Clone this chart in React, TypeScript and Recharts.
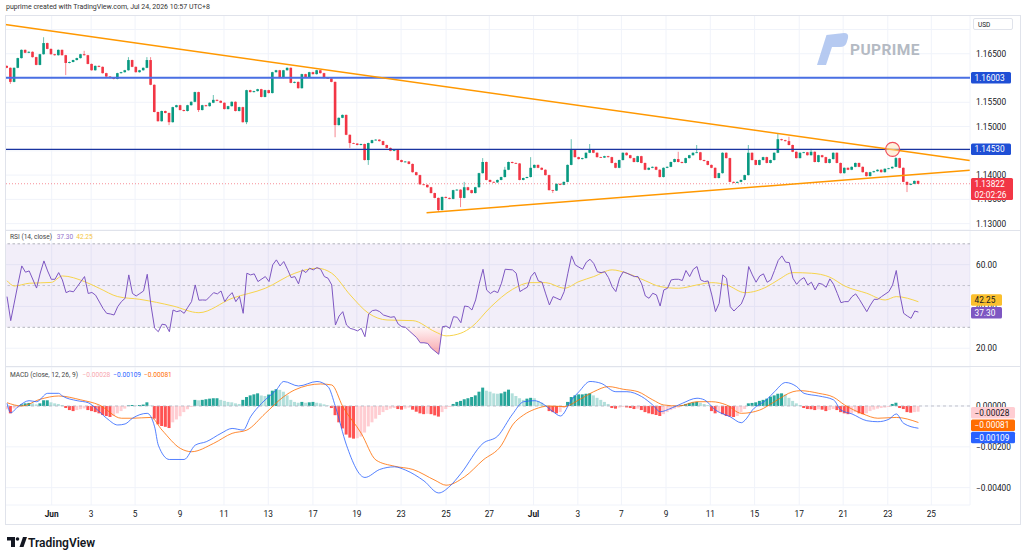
import {
  ComposedChart,
  Bar,
  Line,
  Area,
  XAxis,
  YAxis,
  CartesianGrid,
  ReferenceLine,
  ReferenceArea,
  ReferenceDot,
  Cell,
} from "recharts";

const FONT = "Roboto, 'Liberation Sans', sans-serif";
const TEXT = "#131722";
const GRID = "#f0f3fa";
const UP = "#089981";
const DOWN = "#f23645";

// 4h candles, index 0 = first bar on the left
const FIRST_OPEN = 1.1625;
const closes = [
  1.1621, 1.1592, 1.1621, 1.1641, 1.1658, 1.1652, 1.1654, 1.1643, 1.1627, 1.1649,
  1.1672, 1.166, 1.1649, 1.1647, 1.1658, 1.1647, 1.1631, 1.1633, 1.1637, 1.1641,
  1.1649, 1.1647, 1.1629, 1.1616, 1.1625, 1.1623, 1.161, 1.1603, 1.16, 1.1598,
  1.161, 1.1612, 1.1616, 1.1637, 1.1623, 1.1612, 1.1616, 1.1621, 1.1637, 1.1586,
  1.153, 1.1511, 1.1532, 1.1528, 1.1509, 1.154, 1.1544, 1.1534, 1.1532, 1.1544,
  1.1551, 1.1571, 1.1534, 1.1544, 1.1542, 1.1549, 1.1555, 1.1553, 1.1549, 1.1536,
  1.1542, 1.1551, 1.1532, 1.154, 1.1509, 1.1575, 1.1571, 1.1573, 1.1577, 1.1561,
  1.1575, 1.1569, 1.1612, 1.1616, 1.16, 1.1616, 1.1621, 1.159, 1.1592, 1.1579,
  1.1608, 1.1602, 1.1612, 1.1608, 1.1616, 1.161, 1.16, 1.1599, 1.1592, 1.1503,
  1.1518, 1.1524, 1.1483, 1.1466, 1.1465, 1.1462, 1.1464, 1.1431, 1.1466, 1.1472,
  1.1473, 1.147, 1.1462, 1.1456, 1.145, 1.1452, 1.1431, 1.1427, 1.1428, 1.1423,
  1.1406, 1.14, 1.1381, 1.138, 1.1375, 1.1363, 1.1353, 1.1328, 1.1355, 1.1353,
  1.1351, 1.1369, 1.137, 1.1353, 1.1375, 1.1369, 1.1363, 1.1375, 1.1404, 1.1427,
  1.139, 1.1386, 1.1385, 1.139, 1.1396, 1.1411, 1.1427, 1.1425, 1.1424, 1.139,
  1.1394, 1.1396, 1.1415, 1.1421, 1.1415, 1.1411, 1.14, 1.1369, 1.1368, 1.1382,
  1.138, 1.1386, 1.1421, 1.1452, 1.1437, 1.1433, 1.1435, 1.1446, 1.1452, 1.1446,
  1.1437, 1.1436, 1.1439, 1.1437, 1.1425, 1.1415, 1.1431, 1.1446, 1.1441, 1.1435,
  1.1427, 1.1439, 1.1425, 1.1411, 1.1415, 1.1417, 1.1411, 1.1396, 1.1415, 1.1417,
  1.1427, 1.1433, 1.1427, 1.1425, 1.1435, 1.1441, 1.1446, 1.1447, 1.1431, 1.1429,
  1.1421, 1.1415, 1.1394, 1.1404, 1.1446, 1.1435, 1.1386, 1.1384, 1.1386, 1.139,
  1.14, 1.1446, 1.1431, 1.1421, 1.1431, 1.1437, 1.1425, 1.1431, 1.1446, 1.1474,
  1.1472, 1.147, 1.1462, 1.1448, 1.1435, 1.1446, 1.1447, 1.1441, 1.1448, 1.1427,
  1.1441, 1.1437, 1.1425, 1.1433, 1.1446, 1.1425, 1.1404, 1.1415, 1.1411, 1.1417,
  1.1425, 1.1417, 1.1406, 1.1398, 1.1406, 1.1408, 1.1411, 1.1406, 1.1413, 1.1414,
  1.1417, 1.1435, 1.1415, 1.1386, 1.138, 1.1382, 1.1388, 1.1382,
];

// long wicks [index, price]
const wickHighs = [
  [10, 1.1684], [21, 1.1656], [33, 1.1643], [38, 1.1643], [39, 1.1643], [56, 1.1565],
  [124, 1.1386], [129, 1.1435], [135, 1.1417], [142, 1.1437], [153, 1.1474], [158, 1.1464],
  [182, 1.1448], [187, 1.1462], [201, 1.1462], [209, 1.1485], [212, 1.1479], [218, 1.1454],
  [241, 1.1437],
];
const wickLows = [
  [1, 1.1588], [16, 1.1606], [44, 1.1503], [52, 1.153], [65, 1.1505], [89, 1.1478],
  [93, 1.1456], [98, 1.1421], [117, 1.1324], [123, 1.1334], [148, 1.1363], [244, 1.1365],
];

const dateTicks = [
  12.1, 22.8, 34.7, 46.9, 58.8, 70.8, 82.9, 94.8, 106.8, 119.0, 130.7,
  142.7, 154.7, 166.5, 178.6, 190.6, 202.6, 214.7, 226.6, 238.7, 250.5,
];
const dateLabels = [
  "Jun", "3", "5", "9", "11", "13", "17", "19", "23", "25", "27",
  "Jul", "3", "7", "9", "11", "15", "17", "21", "23", "25",
];

const priceTicks = [1.13, 1.135, 1.14, 1.145, 1.15, 1.155, 1.16, 1.165, 1.17];
const rsiTicks = [20, 40, 60];
const macdTicks = [-0.004, -0.002, 0];

// drawn levels / trendlines
const LEVEL_TOP = 1.16003;
const LEVEL_MID = 1.1453;
const LAST_PRICE = 1.13822;
const RSI_LAST = 37.3;
const RSI_MA_LAST = 42.25;
const HIST_LAST = -0.00028;
const SIGNAL_LAST = -0.00081;
const MACD_LAST = -0.00109;
const upperTrend = [
  { x: -0.5, y: 1.171 },
  { x: 260.9, y: 1.143 },
];
const lowerTrend = [
  { x: 113.7, y: 1.13225 },
  { x: 260.9, y: 1.14101 },
];

// RSI(14) [index, value]
const rsiPoints = [
  [0, 44.7], [1, 33.2], [3, 51], [4, 59.4], [5, 56.4], [6, 57], [8, 48.8], [9, 56], [10, 61.8],
  [11, 57], [12, 53], [13, 53], [14, 56.2], [15, 52.7], [16, 46.6], [17, 47.4], [18, 47],
  [19, 49.4], [21, 54.3], [22, 46.2], [23, 46.7], [24, 45.4], [26, 39.1], [27, 36.7],
  [28, 36.4], [29, 35.9], [30, 39.9], [31, 42.3], [32, 43.9], [33, 55.1], [34, 46.2], [35, 45],
  [36, 46.2], [37, 47.4], [38, 55.4], [39, 40.7], [40, 29.6], [41, 27.9], [42, 31.5],
  [43, 31.2], [44, 27.9], [45, 38.3], [46, 37.5], [47, 38], [48, 36.7], [49, 39.6], [50, 42.3],
  [51, 50.3], [52, 43], [53, 43.1], [54, 43], [55, 44.8], [56, 46.6], [57, 46], [58, 47.4],
  [59, 42.3], [60, 44.8], [61, 46.6], [62, 42.3], [63, 44.8], [64, 36.7], [65, 55.9],
  [66, 55.1], [67, 55.6], [68, 51.9], [70, 54.3], [71, 51.9], [72, 59.9], [73, 62.3],
  [74, 59.4], [75, 61.5], [76, 57.8], [77, 53.8], [78, 54.3], [79, 50.8], [80, 57.5],
  [81, 56.2], [82, 58.3], [83, 57.5], [84, 58.6], [85, 57.8], [86, 54.3], [87, 53.5],
  [88, 50.3], [89, 31.1], [90, 35.4], [91, 37.5], [92, 31.1], [93, 29.5], [94, 29],
  [95, 28.3], [96, 29.5], [97, 25.5], [98, 36.4], [99, 38], [100, 38.3], [101, 37.5],
  [102, 35.9], [104, 34.8], [105, 35.1], [106, 31.6], [107, 30.3], [108, 30], [109, 28.3],
  [111, 25.1], [112, 22.6], [113, 22.6], [114, 22.3], [115, 20], [117, 17.1], [118, 30.3],
  [119, 30.6], [120, 29.5], [121, 35.1], [122, 34.8], [123, 32.2], [124, 40.2], [125, 39.9],
  [126, 38.3], [127, 43.1], [128, 51.1], [129, 57.8], [130, 47.8], [131, 46.2], [132, 47.4],
  [133, 46.6], [134, 51.1], [135, 57.8], [137, 57.5], [138, 55.9], [139, 47.1], [140, 48.2],
  [141, 49.2], [142, 54.3], [143, 56.4], [144, 52.2], [145, 51.6], [146, 46], [147, 40.7],
  [148, 44.7], [149, 43.9], [150, 43.1], [151, 47.1], [152, 55.9], [153, 64.2], [154, 59.9],
  [155, 58.8], [156, 57.8], [157, 61.2], [158, 62.6], [159, 60.6], [160, 56.6], [161, 56.2],
  [162, 56.6], [163, 53.8], [164, 49.4], [165, 47.1], [166, 53.5], [167, 56.6], [168, 55.9],
  [170, 54.3], [171, 54.3], [172, 50.8], [173, 45], [174, 43.9], [175, 46.3], [176, 45.5],
  [177, 40.2], [178, 47.9], [179, 48.7], [180, 52.7], [181, 53], [182, 53], [183, 52.4],
  [184, 57.2], [185, 54.3], [186, 57.8], [187, 59.1], [188, 52.7], [189, 51.9], [190, 52.2],
  [191, 45.5], [192, 37.5], [193, 41.5], [194, 55.1], [195, 53.5], [196, 39.9], [197, 37.8],
  [198, 39.6], [199, 41.2], [200, 45.5], [201, 59.1], [202, 55.1], [203, 51.6], [204, 54.6],
  [205, 55.6], [206, 51.6], [207, 52.7], [208, 57.2], [209, 62], [210, 64.2], [211, 61.2],
  [212, 61], [213, 53.5], [214, 50.6], [215, 52.7], [216, 53.8], [217, 50.3], [218, 51.6],
  [219, 47.9], [220, 51.1], [221, 50.6], [222, 49.2], [223, 53.2], [224, 50.6], [225, 46.3],
  [226, 41.8], [227, 42.3], [228, 42.3], [229, 44.7], [230, 46], [231, 43.4], [233, 37.5],
  [234, 40.7], [235, 43.4], [236, 43.4], [237, 44.7], [239, 47.1], [240, 50.3], [241, 57.2],
  [242, 45.5], [243, 36.7], [244, 35.4], [245, 34.3], [246, 37.8], [247, 37.3],
];

// RSI-based MA
const rsiMaPoints = [
  [0, 52.3], [2, 49.8], [6, 51.1], [12, 51.5], [15, 54.6], [21, 51.9], [25, 48.7], [30, 44.7],
  [36, 43.4], [45, 40.2], [52, 37], [61, 43.9], [70, 48.7], [78, 55.9], [84, 58.3], [88, 55.9],
  [93, 45.5], [98, 36.7], [103, 33.5], [110, 33.2], [116, 27.9], [119, 25.9], [123, 27.2],
  [126, 30.3], [131, 39.6], [137, 48.2], [142, 51.4], [146, 51.4], [151, 48.7], [155, 51.9],
  [159, 54.3], [164, 57.5], [168, 55.9], [173, 52.3], [177, 49.5], [182, 48.7], [187, 50.3],
  [191, 51.4], [195, 50.3], [200, 46.6], [206, 49.5], [209, 52.7], [213, 56.2], [218, 55.9],
  [223, 54], [227, 49.8], [233, 46.3], [238, 43.1], [241, 44.7], [247, 42.25],
];

// MACD (12, 26, 9)
const macdPoints = [
  [0, 0.00013], [1, -0.00033], [3, -0.00003], [6, 0.00026], [8, 0.00021], [11, 0.00062],
  [14, 0.00062], [15, 0.00049], [19, 0.00026], [22, 0.00016], [24, -0.00011], [27, -0.0006],
  [30, -0.00093], [32, -0.00088], [34, -0.0006], [38, -0.00036], [40, -0.00102], [41, -0.00192],
  [44, -0.00262], [48, -0.00262], [51, -0.00192], [54, -0.00175], [58, -0.00134], [61, -0.0011],
  [64, -0.00118], [66, -0.00053], [69, 0.00013], [73, 0.00079], [75, 0.0012], [79, 0.00098],
  [84, 0.0012], [87, 0.00095], [89, -0.00003], [92, -0.00192], [97, -0.0035], [101, -0.00311],
  [105, -0.00298], [108, -0.00314], [113, -0.00367], [117, -0.00426], [120, -0.00393],
  [123, -0.00331], [129, -0.00183], [133, -0.00147], [137, -0.0004], [140, 0.00021],
  [143, 0.00026], [145, 0.00013], [148, -0.00028], [150, -0.00049], [153, 0.0003], [155, 0.0007],
  [158, 0.0012], [161, 0.00111], [165, 0.0007], [168, 0.0007], [172, 0.00046], [175, 0.00005],
  [177, -0.00028], [180, -0.00011], [183, 0.00013], [187, 0.00038], [189, 0.0003], [192, -0.0002],
  [196, -0.00053], [199, -0.00082], [200, -0.0007], [202, -0.0002], [206, 0.00033], [208, 0.0007],
  [211, 0.00115], [214, 0.00095], [216, 0.00062], [220, 0.00049], [224, 0.0003], [226, -0.0002],
  [229, -0.00039], [233, -0.00072], [236, -0.00077], [239, -0.00065], [241, -0.00039],
  [243, -0.00085], [247, -0.00109],
];
const signalPoints = [
  [0, 0.00016], [4, 0], [9, 0.00033], [14, 0.00049], [20, 0.0003], [25, 0.00005], [31, -0.0006],
  [34, -0.0006], [39, -0.00056], [42, -0.00118], [47, -0.00208], [50, -0.00224], [56, -0.00183],
  [61, -0.00134], [65, -0.00118], [70, -0.00036], [75, 0.00046], [78, 0.00079], [85, 0.00108],
  [88, 0.00103], [91, -0.00003], [96, -0.00134], [100, -0.00265], [105, -0.00295],
  [110, -0.00311], [116, -0.00364], [119, -0.00388], [124, -0.00347], [129, -0.00265],
  [134, -0.00192], [137, -0.00093], [140, -0.00044], [143, -0.00016], [147, 0], [151, -0.00003],
  [155, 0.0003], [159, 0.0007], [163, 0.00095], [167, 0.00082], [171, 0.0007], [175, 0.0003],
  [178, 0.00005], [182, 0], [187, 0.00021], [191, 0.00021], [195, 0.00005], [199, -0.00036],
  [204, -0.0002], [208, 0.00021], [213, 0.0007], [215, 0.00075], [220, 0.00062], [224, 0.00043],
  [227, 0.00005], [232, -0.00039], [236, -0.0006], [241, -0.00056], [247, -0.00081],
];
const histValues = [
  -0.00016, -0.00036, -0.00012, -0.00008, 0.00008, 0.00013, 0.00015, 0.00013, 0.00008, 0.00013,
  0.00028, 0.00028, 0.00018, 0.00013, 0.0001, 0.00005, -0.0001, -0.0002, -0.00025, -0.0002,
  -0.00016, -0.00012, -0.0002, -0.00025, -0.0003, -0.00036, -0.00044, -0.00049, -0.00054, -0.00049,
  -0.00036, -0.00025, -0.00013, 0.00003, 0.00005, 0.00003, 0.00005, 0.00007, 0.00018, 0.00002,
  -0.00062, -0.0009, -0.00098, -0.00102, -0.00108, -0.0008, -0.00066, -0.0005, -0.0003, -0.00016,
  -0.00005, 0.0003, 0.00028, 0.0003, 0.00033, 0.00036, 0.00038, 0.00038, 0.0003, 0.00025,
  0.0002, 0.00018, 0.00013, 0.0001, 0.0003, 0.00044, 0.00052, 0.00057, 0.00062, 0.00052,
  0.00049, 0.00056, 0.00075, 0.00082, 0.00079, 0.0007, 0.00052, 0.0003, 0.0002, 0.00016,
  0.0002, 0.00016, 0.00018, 0.0002, 0.00016, 0.00013, 0.00008, 0.00003, -0.0001, -0.00045,
  -0.0008, -0.0011, -0.0014, -0.00155, -0.0016, -0.00158, -0.0015, -0.0013, -0.001, -0.0008,
  -0.00062, -0.00044, -0.0003, -0.0002, -0.00013, -0.0001, -0.00015, -0.00018, -0.00013, -0.00008,
  -0.00018, -0.00028, -0.00036, -0.0004, -0.00038, -0.0004, -0.00046, -0.00052, -0.0003, -0.00015,
  -0.00005, 0.0001, 0.0002, 0.00025, 0.00033, 0.00038, 0.00044, 0.00052, 0.0007, 0.0009,
  0.00075, 0.0007, 0.00062, 0.0006, 0.00062, 0.0007, 0.0008, 0.00062, 0.00049, 0.00038,
  0.0003, 0.00036, 0.0004, 0.00038, 0.00025, 0.00016, 0.00005, -0.00025, -0.0003, -0.00036,
  -0.0003, -0.0001, 0.0002, 0.00044, 0.00052, 0.00057, 0.00057, 0.0006, 0.00062, 0.00052,
  0.0004, 0.0003, 0.0002, 0.0001, -0.0001, -0.00013, -0.00008, -0.00005, -0.00007, -0.0001,
  -0.00015, -0.00013, -0.0002, -0.0003, -0.00036, -0.0004, -0.00044, -0.00049, -0.0004, -0.0003,
  -0.0002, -0.00013, -0.00008, 0.00005, 0.0001, 0.00015, 0.00018, 0.0002, 0.00016, 0.0001,
  0.00005, -0.00025, -0.00036, -0.0003, -0.0004, -0.00049, -0.00052, -0.00054, -0.00049, -0.0003,
  -0.00015, 0.00013, 0.00015, 0.00018, 0.00025, 0.0003, 0.00036, 0.00046, 0.00052, 0.0006,
  0.00062, 0.00056, 0.0004, 0.00025, 0.00013, 0.00005, -0.0001, -0.00015, -0.00016, -0.0002,
  -0.00016, -0.00018, -0.00025, -0.0002, -0.00015, -0.0002, -0.0003, -0.00036, -0.0004, -0.00036,
  -0.0003, -0.00036, -0.0004, -0.00036, -0.00025, -0.00018, -0.00013, -0.0001, -0.00008, -0.00005,
  0.0001, 0.00016, -0.0001, -0.00015, -0.0003, -0.00033, -0.0003, -0.00028,
];

const X_DOMAIN = [-0.55, 260.98];
const PRICE_DOMAIN = [1.12869, 1.17298];
const RSI_DOMAIN = [11.0, 76.6];
const MACD_DOMAIN = [-0.00485, 0.00191];

const highMap = new Map(wickHighs.map(([i, v]) => [i, v]));
const lowMap = new Map(wickLows.map(([i, v]) => [i, v]));

const candleRows = closes.map((c, i) => {
  const o = i === 0 ? FIRST_OPEN : closes[i - 1];
  const hi = highMap.get(i) ?? Math.max(o, c) + 0.00008;
  const lo = lowMap.get(i) ?? Math.min(o, c) - 0.00008;
  return { i, o, c, range: [lo, hi] };
});

const rsiRows = rsiPoints.map(([i, v]) => ({ i, v }));
const rsiMaRows = rsiMaPoints.map(([i, v]) => ({ i, v }));
const oversoldRows = rsiPoints
  .filter(([i]) => i >= 107 && i <= 118)
  .map(([i, v]) => ({ i, band: [Math.min(v, 30), 30] }));
const macdRows = macdPoints.map(([i, v]) => ({ i, v }));
const signalRows = signalPoints.map(([i, v]) => ({ i, v }));
const histRows = histValues.map((h, i) => ({ i, h }));

function histColor(k: number) {
  const h = histValues[k];
  const prev = k > 0 ? histValues[k - 1] : h;
  if (h >= 0) return h >= prev ? "#26a69a" : "#b2dfdb";
  return h < prev ? "#ff5252" : "#ffcdd2";
}

function Candle(props: any) {
  const { x, y, width, height, payload } = props;
  if (x == null || !payload) return null;
  const top = Math.min(y, y + height);
  const bot = Math.max(y, y + height);
  const [lo, hi] = payload.range;
  const span = hi - lo || 1e-9;
  const py = (v: number) => top + ((hi - v) / span) * (bot - top);
  const color = payload.c >= payload.o ? UP : DOWN;
  const bt = py(Math.max(payload.o, payload.c));
  const bb = py(Math.min(payload.o, payload.c));
  const cx = x + width / 2;
  return (
    <g>
      <line x1={cx} x2={cx} y1={top} y2={bot} stroke={color} strokeWidth={0.8} strokeOpacity={0.75} />
      <rect x={x + 0.2} y={bt} width={width - 0.4} height={Math.max(bb - bt, 0.8)} fill={color} />
    </g>
  );
}

function AxisTick(props: any) {
  const { x, y, payload, fmt, skip } = props;
  if (skip && skip.includes(payload.value)) return null;
  return (
    <text x={x + 6} y={y} dy={3} fontSize={8.3} fill={TEXT} fontFamily={FONT} textAnchor="start">
      {fmt(payload.value)}
    </text>
  );
}

function DateTick(props: any) {
  const { x, y, payload } = props;
  const k = dateTicks.indexOf(payload.value);
  const label = dateLabels[k] ?? "";
  const month = label === "Jun" || label === "Jul";
  return (
    <text x={x} y={y + 12} fontSize={8.3} fill={TEXT} fontFamily={FONT} textAnchor="middle" fontWeight={month ? 700 : 400}>
      {label}
    </text>
  );
}

function Tag(props: any) {
  const { viewBox, text, sub, bg, fg = "#fff", dy = 0, w = 42 } = props;
  if (!viewBox) return null;
  const x = viewBox.x + viewBox.width + 1;
  const y = viewBox.y + dy;
  const h = sub ? 22 : 11.5;
  const top = sub ? y - 5.75 : y - h / 2;
  return (
    <g>
      <rect x={x} y={top} width={w} height={h} fill={bg} rx={1.5} />
      <text x={x + 3.5} y={y} dy={3} fontSize={8.3} fill={fg} fontFamily={FONT}>
        {text}
      </text>
      {sub && (
        <text x={x + 3.5} y={y + 11} dy={3} fontSize={8.3} fill={fg} fontFamily={FONT}>
          {sub}
        </text>
      )}
    </g>
  );
}

const fmtPrice = (v: number) => v.toFixed(5);
const fmtRsi = (v: number) => v.toFixed(2);
const fmtMacd = (v: number) => (v === 0 ? "0.00000" : "\u2212" + Math.abs(v).toFixed(5));
const minus = (v: number) => "\u2212" + Math.abs(v).toFixed(5);

const noMargin = { top: 0, right: 0, bottom: 0, left: 0 };
const tagMargin = { top: 0, right: 50, bottom: 0, left: 0 };

// transparent chart on top of a pane, holding only the value tags on the price scale
function TagLayer(props: any) {
  const { top, height, domain, children, bottom = 0 } = props;
  return (
    <div style={{ position: "absolute", left: 5, top, pointerEvents: "none" }}>
      <ComposedChart width={1015} height={height} margin={{ ...tagMargin, bottom }}>
        <XAxis type="number" dataKey="i" domain={X_DOMAIN} hide allowDataOverflow />
        <YAxis type="number" domain={domain} hide allowDataOverflow />
        {children}
      </ComposedChart>
    </div>
  );
}

export default function App() {
  return (
    <div
      style={{
        position: "absolute",
        left: 0,
        top: 0,
        width: 1024,
        height: 558,
        background: "#fff",
        fontFamily: FONT,
        overflow: "hidden",
      }}
    >
      <div style={{ position: "absolute", left: 6, top: 3, fontSize: 7, color: "#333" }}>
        puprime created with TradingView.com, Jul 24, 2026 10:57 UTC+8
      </div>

      {/* price pane */}
      <div style={{ position: "absolute", left: 5, top: 15 }}>
        <ComposedChart width={1015} height={215} data={candleRows} margin={noMargin}>
          <XAxis type="number" dataKey="i" domain={X_DOMAIN} ticks={dateTicks} hide allowDataOverflow />
          <YAxis
            orientation="right"
            width={50}
            domain={PRICE_DOMAIN}
            ticks={priceTicks}
            interval={0}
            allowDataOverflow
            axisLine={false}
            tickLine={false}
            tickSize={0}
            tickMargin={0}
            tick={<AxisTick fmt={fmtPrice} skip={[1.17]} />}
          />
          <CartesianGrid stroke={GRID} />
          <ReferenceLine y={LAST_PRICE} stroke={DOWN} strokeOpacity={0.55} strokeDasharray="1 2" />
          <ReferenceLine y={LEVEL_TOP} stroke="#4a6fe3" strokeWidth={2} />
          <ReferenceLine y={LEVEL_MID} stroke="#1a34a0" strokeWidth={1.4} />
          <Bar dataKey="range" barSize={3} shape={<Candle />} isAnimationActive={false} />
          <ReferenceLine segment={upperTrend} stroke="#ff9800" strokeWidth={1.5} />
          <ReferenceLine segment={lowerTrend} stroke="#ff9800" strokeWidth={1.5} />
          <ReferenceDot x={240} y={1.1453} r={7} fill="#ffe0b2" fillOpacity={0.45} stroke="#f0505c" strokeWidth={1.2} />
        </ComposedChart>
      </div>
      <TagLayer top={15} height={215} domain={PRICE_DOMAIN}>
        <ReferenceLine y={LEVEL_TOP} stroke="none" label={<Tag text="1.16003" bg="#1f4fd5" w={40} />} />
        <ReferenceLine y={LEVEL_MID} stroke="none" label={<Tag text="1.14530" bg="#1f4fd5" w={40} />} />
        <ReferenceLine y={LAST_PRICE} stroke="none" label={<Tag text="1.13822" sub="02:02:26" bg={DOWN} w={42} />} />
      </TagLayer>

      {/* RSI pane */}
      <div style={{ position: "absolute", left: 5, top: 230 }}>
        <ComposedChart width={1015} height={137} margin={noMargin}>
          <defs>
            <linearGradient id="oversold" x1="0" y1="0" x2="0" y2="1">
              <stop offset="0%" stopColor="#f23645" stopOpacity={0.05} />
              <stop offset="100%" stopColor="#f23645" stopOpacity={0.45} />
            </linearGradient>
          </defs>
          <XAxis type="number" dataKey="i" domain={X_DOMAIN} ticks={dateTicks} hide allowDataOverflow />
          <YAxis
            orientation="right"
            width={50}
            domain={RSI_DOMAIN}
            ticks={rsiTicks}
            interval={0}
            allowDataOverflow
            axisLine={false}
            tickLine={false}
            tickSize={0}
            tickMargin={0}
            tick={<AxisTick fmt={fmtRsi} />}
          />
          <CartesianGrid stroke={GRID} />
          <ReferenceArea y1={30} y2={70} fill="#7e57c2" fillOpacity={0.1} stroke="none" />
          <ReferenceLine y={70} stroke="#9598a1" strokeOpacity={0.7} strokeDasharray="2.5 2.5" />
          <ReferenceLine y={50} stroke="#9598a1" strokeOpacity={0.5} strokeDasharray="2.5 2.5" />
          <ReferenceLine y={30} stroke="#9598a1" strokeOpacity={0.7} strokeDasharray="2.5 2.5" />
          <Area data={oversoldRows} dataKey="band" type="linear" stroke="none" fill="url(#oversold)" fillOpacity={1} isAnimationActive={false} />
          <Line data={rsiMaRows} dataKey="v" type="monotone" stroke="#f7d44c" strokeWidth={1} dot={false} isAnimationActive={false} />
          <Line data={rsiRows} dataKey="v" type="linear" stroke="#7e57c2" strokeWidth={1} dot={false} isAnimationActive={false} />
        </ComposedChart>
      </div>
      <TagLayer top={230} height={137} domain={RSI_DOMAIN}>
        <ReferenceLine y={RSI_MA_LAST} stroke="none" label={<Tag text="42.25" bg="#fbc02d" fg={TEXT} w={31} dy={-1.8} />} />
        <ReferenceLine y={RSI_LAST} stroke="none" label={<Tag text="37.30" bg="#7e57c2" w={31} dy={0.6} />} />
      </TagLayer>

      {/* MACD pane */}
      <div style={{ position: "absolute", left: 5, top: 367 }}>
        <ComposedChart width={1015} height={157} data={histRows} margin={noMargin}>
          <XAxis
            type="number"
            dataKey="i"
            domain={X_DOMAIN}
            ticks={dateTicks}
            interval={0}
            allowDataOverflow
            height={19}
            axisLine={false}
            tickLine={false}
            tickSize={0}
            tickMargin={0}
            tick={<DateTick />}
          />
          <YAxis
            orientation="right"
            width={50}
            domain={MACD_DOMAIN}
            ticks={macdTicks}
            interval={0}
            allowDataOverflow
            axisLine={false}
            tickLine={false}
            tickSize={0}
            tickMargin={0}
            tick={<AxisTick fmt={fmtMacd} />}
          />
          <CartesianGrid stroke={GRID} />
          <ReferenceLine y={0} stroke="#b2b5be" strokeOpacity={0.8} strokeDasharray="3 3" />
          <Bar dataKey="h" barSize={3} isAnimationActive={false}>
            {histRows.map((r) => (
              <Cell key={r.i} fill={histColor(r.i)} />
            ))}
          </Bar>
          <Line data={signalRows} dataKey="v" type="monotone" stroke="#ff6d00" strokeOpacity={0.8} strokeWidth={1} dot={false} isAnimationActive={false} />
          <Line data={macdRows} dataKey="v" type="monotone" stroke="#2962ff" strokeOpacity={0.8} strokeWidth={1} dot={false} isAnimationActive={false} />
        </ComposedChart>
      </div>
      <TagLayer top={367} height={157} bottom={19} domain={MACD_DOMAIN}>
        <ReferenceLine y={HIST_LAST} stroke="none" label={<Tag text={minus(HIST_LAST)} bg="#ffcdd2" fg={TEXT} w={44} dy={1} />} />
        <ReferenceLine y={SIGNAL_LAST} stroke="none" label={<Tag text={minus(SIGNAL_LAST)} bg="#ff6d00" w={44} dy={2.6} />} />
        <ReferenceLine y={MACD_LAST} stroke="none" label={<Tag text={minus(MACD_LAST)} bg="#2962ff" w={44} dy={9.3} />} />
      </TagLayer>

      {/* frame and pane separators */}
      <div style={{ position: "absolute", left: 5, top: 15, width: 1014, height: 508, border: "1px solid #e0e3eb", pointerEvents: "none" }} />
      <div style={{ position: "absolute", left: 5, top: 230, width: 1015, height: 1, background: "#e0e3eb" }} />
      <div style={{ position: "absolute", left: 5, top: 366, width: 1015, height: 1, background: "#e0e3eb" }} />

      {/* legends */}
      <div style={{ position: "absolute", left: 10, top: 233, fontSize: 6.6, color: "#444", whiteSpace: "nowrap" }}>
        RSI (14, close) <span style={{ color: "#9575cd", marginLeft: 3 }}>37.30</span>
        <span style={{ color: "#f5c542", marginLeft: 3 }}>42.25</span>
      </div>
      <div style={{ position: "absolute", left: 10, top: 371, fontSize: 6.6, color: "#444", whiteSpace: "nowrap" }}>
        MACD (close, 12, 26, 9) <span style={{ color: "#f7a6ae", marginLeft: 3 }}>{minus(HIST_LAST)}</span>
        <span style={{ color: "#2962ff", marginLeft: 3 }}>{minus(MACD_LAST)}</span>
        <span style={{ color: "#ff6d00", marginLeft: 3 }}>{minus(SIGNAL_LAST)}</span>
      </div>

      {/* currency box */}
      <div
        style={{
          position: "absolute",
          left: 973,
          top: 18,
          width: 40,
          height: 12,
          border: "1px solid #e0e3eb",
          borderRadius: 2,
          background: "#fff",
          fontSize: 6.5,
          color: TEXT,
          lineHeight: "12px",
          paddingLeft: 4,
          boxSizing: "border-box",
        }}
      >
        USD
      </div>

      {/* PU Prime watermark and TradingView logo */}
      <svg style={{ position: "absolute", left: 0, top: 0, pointerEvents: "none" }} width={1024} height={558}>
        <path d="M817 65 L826.5 35 L844 33 Q849 33 848 38 L846.5 43 Q845 47 840 47 L832 47 L826 65 Z" fill="#a9c1ee" opacity={0.85} />
        <text x={850} y={55} fontSize={15.5} fontWeight={700} fill="#b4bac3" fontFamily={FONT} letterSpacing={0.4}>
          PUPRIME
        </text>
        <g fill={TEXT}>
          <path d="M7 537 H15 V547 H11 V540.5 H7 Z" />
          <circle cx={17.5} cy={539} r={1.8} />
          <path d="M19.5 547 L23 537 H27 L23.5 547 Z" />
        </g>
        <text x={28} y={546.5} fontSize={12} fontWeight={600} fill={TEXT} fontFamily={FONT}>
          TradingView
        </text>
      </svg>
    </div>
  );
}
